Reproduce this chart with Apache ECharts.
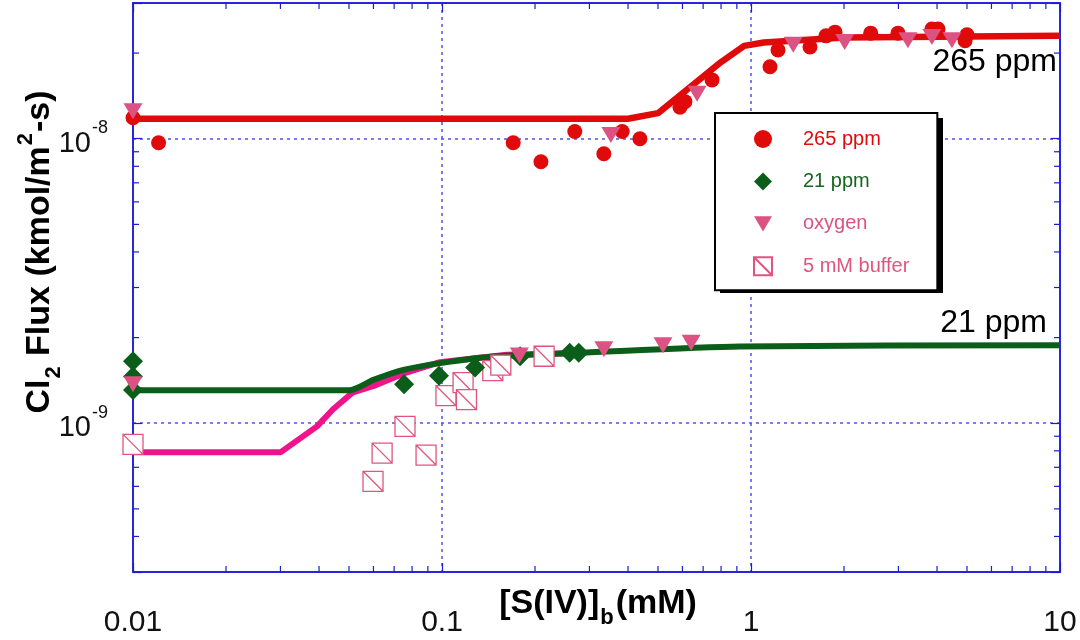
<!DOCTYPE html>
<html>
<head>
<meta charset="utf-8">
<script src="https://cdn.jsdelivr.net/npm/echarts@6/dist/echarts.min.js"></script>
<style>
html,body{margin:0;padding:0;background:#fff;}
#chart{width:1080px;height:640px;}
</style>
</head>
<body>
<div id="chart"></div>
<script>
// ---------- data ----------
const xMin = 0.01, xMax = 10;
const yMin = 3e-10, yMax = 3e-8;
const xTickLabels = ['0.01', '0.1', '1', '10'];

const c265X = [0.01, 0.0121, 0.170, 0.209, 0.269, 0.334, 0.383, 0.437, 0.589, 0.611, 0.748, 1.152, 1.223, 1.552, 1.749, 1.870, 2.44, 2.99, 3.85, 4.03, 5.0, 4.93];
const c265Y = [1.185e-8, 9.68e-9, 9.68e-9, 8.30e-9, 1.06e-8, 8.86e-9, 1.06e-8, 1.0e-8, 1.29e-8, 1.35e-8, 1.61e-8, 1.79e-8, 2.05e-8, 2.10e-8, 2.30e-8, 2.37e-8, 2.35e-8, 2.35e-8, 2.43e-8, 2.43e-8, 2.32e-8, 2.21e-8];

const d21X = [0.01, 0.01, 0.01, 0.0754, 0.0978, 0.128, 0.179, 0.259, 0.277];
const d21Y = [1.65e-9, 1.46e-9, 1.31e-9, 1.37e-9, 1.47e-9, 1.57e-9, 1.72e-9, 1.77e-9, 1.77e-9];

const oxyX = [0.01, 0.352, 0.669, 1.37, 2.01, 3.22, 3.85, 4.47, 0.01, 0.178, 0.334, 0.519, 0.640];
const oxyY = [1.25e-8, 1.03e-8, 1.44e-8, 2.14e-8, 2.19e-8, 2.22e-8, 2.28e-8, 2.22e-8, 1.37e-9, 1.73e-9, 1.82e-9, 1.88e-9, 1.92e-9];

const bufX = [0.01, 0.0598, 0.064, 0.0759, 0.0888, 0.103, 0.117, 0.120, 0.146, 0.155, 0.214];
const bufY = [8.43e-10, 6.25e-10, 7.85e-10, 9.75e-10, 7.73e-10, 1.25e-9, 1.39e-9, 1.21e-9, 1.53e-9, 1.60e-9, 1.72e-9];

const fit265X = [0.01, 0.4, 0.5, 0.8, 0.95, 1.1, 2, 10];
const fit265Y = [1.175e-8, 1.175e-8, 1.23e-8, 1.86e-8, 2.12e-8, 2.18e-8, 2.27e-8, 2.30e-8];

const fit21X = [0.01, 0.05, 0.06, 0.075, 0.1, 0.15, 0.28, 0.92, 10];
const fit21Y = [1.305e-9, 1.305e-9, 1.42e-9, 1.54e-9, 1.63e-9, 1.72e-9, 1.77e-9, 1.86e-9, 1.88e-9];

const fitBufX = [0.01, 0.03, 0.0394, 0.0444, 0.0515, 0.0598, 0.0771, 0.0985, 0.126, 0.162, 0.25];
const fitBufY = [7.9e-10, 7.9e-10, 9.75e-10, 1.12e-9, 1.285e-9, 1.35e-9, 1.51e-9, 1.64e-9, 1.69e-9, 1.74e-9, 1.76e-9];

const xMinorTicks = [0.02,0.03,0.04,0.05,0.06,0.07,0.08,0.09,0.2,0.3,0.4,0.5,0.6,0.7,0.8,0.9,2,3,4,5,6,7,8,9];
const yMinorTicks = [4e-10,5e-10,6e-10,7e-10,8e-10,9e-10,2e-9,3e-9,4e-9,5e-9,6e-9,7e-9,8e-9,9e-9,2e-8];

// ---------- helpers ----------
const zip = (a, b) => a.map((v, i) => [v, b[i]]);
const FONT = 'Liberation Sans, Arial, sans-serif';
const AXIS_BLUE = '#1a1ad8';
const GRID_BLUE = '#5050f0';
const RED = '#e00a0a', GREEN = '#0b5e1a', PINK_LINE = '#f0148c', TRI = '#dc5283', BUF = '#e0557f';
const triPath = 'path://M0,0L20,0L10,17Z';
const bufPath = 'path://M0,0L10,0L10,10L0,10Z M0,0L10,10';
const diaPath = 'path://M10,0L20,10L10,20L0,10Z';

const tickData = xMinorTicks.map(v => [v, 1e-9, 0]).concat(yMinorTicks.map(v => [0.1, v, 1]));

function renderTicks(params, api) {
  const cs = params.coordSys;
  const L = 6;
  const st = { stroke: AXIS_BLUE, lineWidth: 1.2 };
  if (api.value(2) === 0) {
    const px = api.coord([api.value(0), 1e-9])[0];
    return { type: 'group', children: [
      { type: 'line', shape: { x1: px, y1: cs.y + cs.height, x2: px, y2: cs.y + cs.height - L }, style: st },
      { type: 'line', shape: { x1: px, y1: cs.y, x2: px, y2: cs.y + L }, style: st }
    ]};
  }
  const py = api.coord([0.1, api.value(1)])[1];
  return { type: 'group', children: [
    { type: 'line', shape: { x1: cs.x, y1: py, x2: cs.x + L, y2: py }, style: st },
    { type: 'line', shape: { x1: cs.x + cs.width, y1: py, x2: cs.x + cs.width - L, y2: py }, style: st }
  ]};
}

function isDecade(v) {
  const l = Math.log10(v);
  return Math.abs(l - Math.round(l)) < 1e-6;
}

const chart = echarts.init(document.getElementById('chart'), null, { renderer: 'canvas' });

const option = {
  animation: false,
  backgroundColor: '#ffffff',
  grid: { left: 133, right: 20, top: 3, bottom: 68, show: true, borderColor: AXIS_BLUE, borderWidth: 1.5, backgroundColor: 'transparent' },
  xAxis: [{
    type: 'log', logBase: 10, min: xMin, max: xMax, position: 'bottom',
    axisLine: { show: true, lineStyle: { color: AXIS_BLUE, width: 1.5 } },
    axisTick: { show: true, inside: true, length: 9, lineStyle: { color: AXIS_BLUE, width: 1.2 } },
    axisLabel: {
      show: true, margin: 36, color: '#111', fontFamily: FONT, fontSize: 30,
      formatter: v => isDecade(v) ? xTickLabels[Math.round(Math.log10(v)) + 2] : ''
    },
    splitLine: { show: true, showMinLine: false, showMaxLine: false, lineStyle: { color: GRID_BLUE, type: [3, 4], width: 1.5 } }
  }, {
    type: 'log', logBase: 10, min: xMin, max: xMax, position: 'top',
    axisLine: { show: true, lineStyle: { color: AXIS_BLUE, width: 1.5 } },
    axisTick: { show: true, inside: true, length: 9, lineStyle: { color: AXIS_BLUE, width: 1.2 } },
    axisLabel: { show: false }, splitLine: { show: false }
  }],
  yAxis: [{
    type: 'log', logBase: 10, min: yMin, max: yMax, position: 'left',
    axisLine: { show: true, lineStyle: { color: AXIS_BLUE, width: 1.5 } },
    axisTick: { show: true, inside: true, length: 9, lineStyle: { color: AXIS_BLUE, width: 1.2 } },
    axisLabel: {
      show: true, margin: 25, color: '#111', fontFamily: FONT,
      formatter: v => isDecade(v) ? '{b|10}{s|' + Math.round(Math.log10(v)) + '}' : '',
      rich: {
        b: { fontSize: 29, fontFamily: FONT, color: '#111', verticalAlign: 'top', padding: [10, 0, 0, 0] },
        s: { fontSize: 18, fontFamily: FONT, color: '#111', verticalAlign: 'top', padding: [0, 0, 0, 1] }
      }
    },
    splitLine: { show: true, showMinLine: false, showMaxLine: false, lineStyle: { color: GRID_BLUE, type: [3, 4], width: 1.5 } }
  }, {
    type: 'log', logBase: 10, min: yMin, max: yMax, position: 'right',
    axisLine: { show: true, lineStyle: { color: AXIS_BLUE, width: 1.5 } },
    axisTick: { show: true, inside: true, length: 9, lineStyle: { color: AXIS_BLUE, width: 1.2 } },
    axisLabel: { show: false }, splitLine: { show: false }
  }],
  legend: {
    orient: 'vertical', left: 715, top: 113, z: 8,
    padding: [16, 28, 14, 38],
    itemWidth: 18, itemHeight: 18, itemGap: 22.4,
    backgroundColor: '#ffffff', borderColor: '#000', borderWidth: 2, borderRadius: 0,
    formatter: '{t|{name}}',
    textStyle: {
      fontFamily: FONT, fontSize: 20, lineHeight: 18,
      rich: { t: { fontFamily: FONT, fontSize: 20, lineHeight: 18, padding: [0, 0, 0, 26] } }
    },
    selectedMode: false,
    data: [
      { name: '265 ppm', textStyle: { color: RED } },
      { name: '21 ppm', textStyle: { color: '#17661f' } },
      { name: 'oxygen', textStyle: { color: TRI } },
      { name: '5 mM buffer', textStyle: { color: BUF } }
    ]
  },
  graphic: [
    { type: 'rect', z: 7, shape: { x: 720, y: 118, width: 223, height: 175 }, style: { fill: '#000' } },
    { type: 'text', x: 40, y: 252, rotation: Math.PI / 2, z: 10,
      style: {
        text: '{a|Cl}{sub|2}{a| Flux (kmol/m}{sup|2}{a|-s)}',
        align: 'center', verticalAlign: 'middle',
        rich: {
          a: { fontSize: 34, fontWeight: 'bold', fontFamily: FONT, fill: '#000', verticalAlign: 'top', padding: [8, 0, 0, 0] },
          sub: { fontSize: 22, fontWeight: 'bold', fontFamily: FONT, fill: '#000', verticalAlign: 'top', padding: [28, 1, 0, 1] },
          sup: { fontSize: 22, fontWeight: 'bold', fontFamily: FONT, fill: '#000', verticalAlign: 'top', padding: [0, 1, 0, 1] }
        }
      }
    },
    { type: 'text', x: 598, y: 608, z: 10,
      style: {
        text: '{a|[S(IV)]}{sub|b}{a|(mM)}',
        align: 'center', verticalAlign: 'middle',
        rich: {
          a: { fontSize: 34, fontWeight: 'bold', fontFamily: FONT, fill: '#000', verticalAlign: 'top', padding: [0, 0, 0, 0] },
          sub: { fontSize: 22, fontWeight: 'bold', fontFamily: FONT, fill: '#000', verticalAlign: 'top', padding: [20, 2, 0, 1] }
        }
      }
    },
    { type: 'text', x: 1057, y: 62, z: 10,
      style: { text: '265 ppm', align: 'right', verticalAlign: 'middle', font: '32px ' + FONT, fill: '#000' } },
    { type: 'text', x: 1047, y: 323, z: 10,
      style: { text: '21 ppm', align: 'right', verticalAlign: 'middle', font: '32px ' + FONT, fill: '#000' } }
  ],
  series: [
    { type: 'custom', name: 'ticks', xAxisIndex: 0, yAxisIndex: 0, silent: true, renderItem: renderTicks, data: tickData, z: 1, clip: false },
    { type: 'line', name: 'buffer fit', data: zip(fitBufX, fitBufY), symbol: 'none', lineStyle: { color: PINK_LINE, width: 6 }, z: 2, silent: true },
    { type: 'line', name: '21 fit', data: zip(fit21X, fit21Y), symbol: 'none', smooth: 0.25, lineStyle: { color: GREEN, width: 6 }, z: 3, silent: true },
    { type: 'line', name: '265 fit', data: zip(fit265X, fit265Y), symbol: 'none', lineStyle: { color: RED, width: 6.5 }, z: 3, silent: true },
    { type: 'scatter', name: '5 mM buffer', data: zip(bufX, bufY), symbol: bufPath, symbolSize: 20,
      itemStyle: { color: '#ffffff', borderColor: BUF, borderWidth: 1.3, opacity: 1 }, z: 4 },
    { type: 'scatter', name: '21 ppm', data: zip(d21X, d21Y), symbol: diaPath, symbolSize: 20,
      itemStyle: { color: GREEN, opacity: 1 }, z: 5 },
    { type: 'scatter', name: '265 ppm', data: zip(c265X, c265Y), symbol: 'circle', symbolSize: 15,
      itemStyle: { color: RED, opacity: 1 }, z: 5 },
    { type: 'scatter', name: 'oxygen', data: zip(oxyX, oxyY), symbol: triPath, symbolSize: [19, 16],
      itemStyle: { color: TRI, opacity: 1 }, z: 6 }
  ]
};
chart.setOption(option);
</script>
</body>
</html>
